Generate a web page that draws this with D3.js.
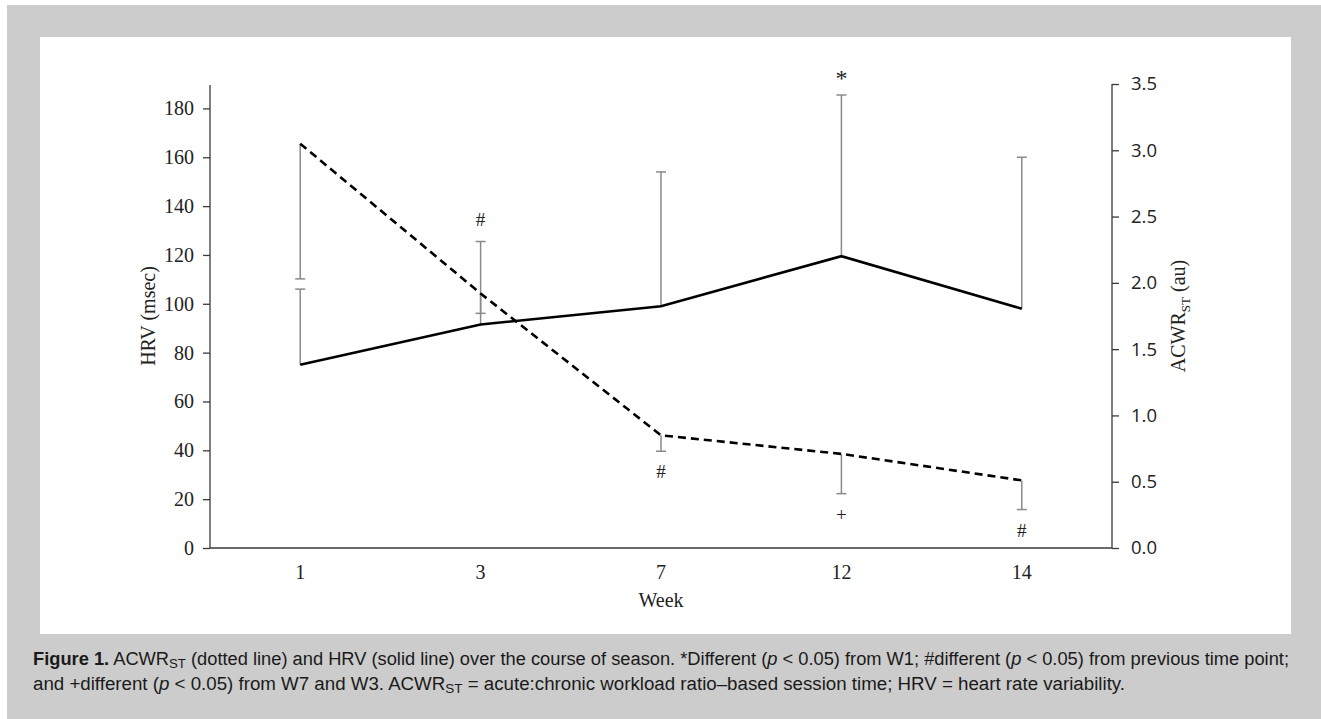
<!DOCTYPE html>
<html>
<head>
<meta charset="utf-8">
<script src="https://cdn.jsdelivr.net/npm/d3@7"></script>
<style>
  body { margin: 0; background: #fff; }
  svg { display: block; }
</style>
</head>
<body>
<svg id="chart" width="1321" height="719"></svg>
<script>
// data
var weeks = ["1", "3", "7", "12", "14"];
var hrv = [75, 91.5, 99, 119.5, 98];          // msec, solid line
var hrvSD = [31, 34, 55, 66, 62];             // drawn upward
var acwr = [3.05, 1.92, 0.85, 0.71, 0.51];    // au, dashed line
var acwrSD = [1.02, 0.15, 0.12, 0.30, 0.22];  // drawn downward
var hrvMarks = ["", "#", "", "*", ""];
var acwrMarks = ["", "", "#", "+", "#"];
var hrvTicks = [0, 20, 40, 60, 80, 100, 120, 140, 160, 180];
var acwrTicks = [0, 0.5, 1, 1.5, 2, 2.5, 3, 3.5];

var svg = d3.select("#chart");

// grey frame + white panel
svg.append("rect").attr("x", 7).attr("y", 5).attr("width", 1314).attr("height", 714).attr("fill", "#cccccc");
svg.append("rect").attr("x", 40).attr("y", 37).attr("width", 1251).attr("height", 597).attr("fill", "#fff");

var mL = 210, mR = 1112, mT = 84, mB = 548;

var x = d3.scaleBand().domain(weeks).range([mL, mR]).padding(0);
var yL = d3.scaleLinear().domain([0, 190]).range([mB, mT]);
var yR = d3.scaleLinear().domain([0, 3.5]).range([mB, mT]);
function cx(i) { return x(weeks[i]) + x.bandwidth() / 2; }

var rows = weeks.map(function(w, i) {
  return { week: w, hrv: hrv[i], hrvSD: hrvSD[i], acwr: acwr[i], acwrSD: acwrSD[i],
           hm: hrvMarks[i], am: acwrMarks[i], i: i };
});

// axes
var axL = svg.append("g")
  .attr("transform", "translate(" + mL + ",0)")
  .call(d3.axisLeft(yL).tickValues(hrvTicks).tickSize(7).tickPadding(9).tickSizeOuter(0));
axL.select(".domain").remove();
axL.append("line").attr("x1", 0).attr("x2", 0).attr("y1", mB).attr("y2", mT + 1);

var axR = svg.append("g")
  .attr("transform", "translate(" + mR + ",0)")
  .call(d3.axisRight(yR).tickValues(acwrTicks).tickFormat(d3.format(".1f")).tickSize(7).tickPadding(12).tickSizeOuter(0));
axR.select(".domain").remove();
axR.append("line").attr("x1", 0).attr("x2", 0).attr("y1", mB).attr("y2", mT);

var axB = svg.append("g")
  .attr("transform", "translate(0," + mB + ")")
  .call(d3.axisBottom(x).tickSize(0).tickPadding(17));
axB.select(".domain").remove();
axB.append("line").attr("x1", mL).attr("x2", mR).attr("y1", 0).attr("y2", 0);

svg.selectAll("g line").attr("stroke", "#3a3a3a").attr("stroke-width", 1.3);
axL.selectAll("text").attr("font-family", "Liberation Serif").attr("font-size", 20).attr("fill", "#222");
axB.selectAll("text").attr("font-family", "Liberation Serif").attr("font-size", 20).attr("fill", "#222");
axR.selectAll("text").attr("font-family", "Open Sans").attr("font-size", 18.5).attr("fill", "#222");

// axis titles
svg.append("text")
  .attr("transform", "translate(155,316) rotate(-90)")
  .attr("text-anchor", "middle")
  .attr("font-family", "Liberation Serif").attr("font-size", 20).attr("fill", "#222")
  .text("HRV (msec)");

var rt = svg.append("text")
  .attr("transform", "translate(1185,316) rotate(-90)")
  .attr("text-anchor", "middle")
  .attr("font-family", "Liberation Serif").attr("font-size", 20).attr("fill", "#222");
rt.append("tspan").text("ACWR");
rt.append("tspan").attr("font-size", 13).attr("dy", 5).text("ST");
rt.append("tspan").attr("dy", -5).text(" (au)");

svg.append("text")
  .attr("x", (mL + mR) / 2).attr("y", 607)
  .attr("text-anchor", "middle")
  .attr("font-family", "Liberation Serif").attr("font-size", 20).attr("fill", "#222")
  .text("Week");

// error bars
var capW = 5;
var eb = svg.append("g").attr("stroke", "#8a8a8a").attr("stroke-width", 1.5);
eb.selectAll(".hv").data(rows).enter().append("line")
  .attr("x1", function(d) { return cx(d.i); }).attr("x2", function(d) { return cx(d.i); })
  .attr("y1", function(d) { return yL(d.hrv); })
  .attr("y2", function(d) { return yL(d.hrv + d.hrvSD); });
eb.selectAll(".hc").data(rows).enter().append("line")
  .attr("x1", function(d) { return cx(d.i) - capW; }).attr("x2", function(d) { return cx(d.i) + capW; })
  .attr("y1", function(d) { return yL(d.hrv + d.hrvSD); })
  .attr("y2", function(d) { return yL(d.hrv + d.hrvSD); });
eb.selectAll(".av").data(rows).enter().append("line")
  .attr("x1", function(d) { return cx(d.i); }).attr("x2", function(d) { return cx(d.i); })
  .attr("y1", function(d) { return yR(d.acwr); })
  .attr("y2", function(d) { return yR(d.acwr - d.acwrSD); });
eb.selectAll(".ac").data(rows).enter().append("line")
  .attr("x1", function(d) { return cx(d.i) - capW; }).attr("x2", function(d) { return cx(d.i) + capW; })
  .attr("y1", function(d) { return yR(d.acwr - d.acwrSD); })
  .attr("y2", function(d) { return yR(d.acwr - d.acwrSD); });

// lines
var lineH = d3.line().x(function(d) { return cx(d.i); }).y(function(d) { return yL(d.hrv); });
var lineA = d3.line().x(function(d) { return cx(d.i); }).y(function(d) { return yR(d.acwr); });

svg.append("path").datum(rows).attr("d", lineH)
  .attr("fill", "none").attr("stroke", "#000").attr("stroke-width", 2.6);
svg.append("path").datum(rows).attr("d", lineA)
  .attr("fill", "none").attr("stroke", "#000").attr("stroke-width", 2.6)
  .attr("stroke-dasharray", "8,5");

// significance marks (asterisk glyph sits high, nudge it down)
svg.selectAll(".hm").data(rows.filter(function(d) { return d.hm; })).enter().append("text")
  .attr("x", function(d) { return cx(d.i); })
  .attr("y", function(d) { return yL(d.hrv + d.hrvSD) - 16; })
  .attr("dy", function(d) { return d.hm == "*" ? 7 : 0; })
  .attr("text-anchor", "middle")
  .attr("font-family", "Liberation Serif")
  .attr("font-size", function(d) { return d.hm == "*" ? 24 : 19; })
  .attr("fill", "#222")
  .text(function(d) { return d.hm; });
svg.selectAll(".am").data(rows.filter(function(d) { return d.am; })).enter().append("text")
  .attr("x", function(d) { return cx(d.i); })
  .attr("y", function(d) { return yR(d.acwr - d.acwrSD) + 27; })
  .attr("text-anchor", "middle")
  .attr("font-family", "Liberation Serif").attr("font-size", 19).attr("fill", "#222")
  .text(function(d) { return d.am; });

// caption
function caption(y, len, parts) {
  var t = svg.append("text").attr("x", 33).attr("y", y)
    .attr("font-family", "Liberation Sans").attr("font-size", 18).attr("fill", "#1a1a1a")
    .attr("textLength", len).attr("lengthAdjust", "spacingAndGlyphs");
  parts.forEach(function(p) {
    var s = t.append("tspan").text(p[0]);
    if (p[1] == "b") s.attr("font-weight", "bold");
    if (p[1] == "i") s.attr("font-style", "italic");
    if (p[1] == "sub") s.attr("font-size", 13).attr("dy", 3);
    if (p[1] == "up") s.attr("dy", -3);
  });
}
caption(665, 1256, [
  ["Figure 1.", "b"], ["  ACWR"], ["ST", "sub"], [" (dotted line) and HRV (solid line) over the course of season. *Different (", "up"],
  ["p", "i"], [" < 0.05) from W1; #different ("], ["p", "i"], [" < 0.05) from previous time point;"]
]);
caption(690, 1092, [
  ["and +different ("], ["p", "i"], [" < 0.05) from W7 and W3. ACWR"], ["ST", "sub"],
  [" = acute:chronic workload ratio\u2013based session time; HRV = heart rate variability.", "up"]
]);
</script>
</body>
</html>
